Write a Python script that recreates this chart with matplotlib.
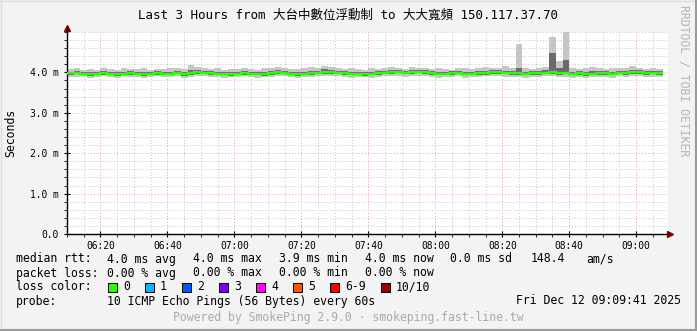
import matplotlib
matplotlib.use("Agg")
import matplotlib.pyplot as plt
from matplotlib.patches import Rectangle
from matplotlib.ticker import MultipleLocator, FixedLocator, FuncFormatter

# 2-minute steps starting 06:10 (minutes since midnight)
start_min = 370
step_min = 2

# median rtt per step (ms)
med = [3.98, 3.99, 3.97, 3.96, 3.97, 3.98, 3.97, 3.96, 3.97, 3.98,
       3.97, 3.96, 3.97, 3.98, 3.97, 3.97, 3.99, 3.95, 3.98, 4.00,
       3.99, 3.98, 3.97, 3.97, 3.96, 3.97, 3.98, 3.97, 3.97, 3.96,
       3.98, 4.00, 3.99, 3.97, 3.96, 3.97, 3.98, 3.99, 4.00, 4.01,
       3.99, 3.98, 3.97, 3.97, 3.96, 3.97, 3.98, 3.99, 4.01, 4.02,
       3.99, 4.02, 4.02, 4.01, 3.98, 3.97, 3.97, 3.98, 3.99, 3.97,
       3.97, 3.98, 3.98, 4.00, 4.01, 3.99, 3.98, 3.98, 3.97, 3.98,
       3.98, 3.99, 4.00, 3.98, 3.99, 3.97, 3.98, 3.96, 3.97, 3.98,
       3.98, 3.97, 3.99, 3.98, 4.01, 4.00, 3.98, 3.99, 3.98]

# outer smoke (fastest / slowest ping)
lo = [3.89, 3.88, 3.90, 3.87, 3.89, 3.90, 3.88, 3.87, 3.90, 3.89,
      3.88, 3.86, 3.89, 3.90, 3.88, 3.89, 3.90, 3.85, 3.89, 3.91,
      3.90, 3.88, 3.89, 3.87, 3.88, 3.89, 3.90, 3.88, 3.86, 3.88,
      3.89, 3.90, 3.91, 3.88, 3.87, 3.89, 3.88, 3.90, 3.91, 3.92,
      3.90, 3.88, 3.87, 3.89, 3.88, 3.86, 3.89, 3.90, 3.92, 3.91,
      3.89, 3.91, 3.92, 3.90, 3.88, 3.87, 3.89, 3.88, 3.90, 3.87,
      3.88, 3.89, 3.90, 3.91, 3.90, 3.89, 3.88, 3.89, 3.87, 3.88,
      3.89, 3.90, 3.91, 3.88, 3.89, 3.86, 3.88, 3.87, 3.88, 3.89,
      3.89, 3.87, 3.90, 3.88, 3.91, 3.90, 3.88, 3.89, 3.88]
hi = [4.08, 4.10, 4.07, 4.09, 4.06, 4.10, 4.08, 4.07, 4.11, 4.09,
      4.08, 4.10, 4.07, 4.09, 4.08, 4.10, 4.12, 4.09, 4.18, 4.14,
      4.10, 4.08, 4.11, 4.07, 4.09, 4.08, 4.10, 4.09, 4.07, 4.12,
      4.10, 4.14, 4.11, 4.09, 4.08, 4.10, 4.13, 4.12, 4.17, 4.13,
      4.10, 4.08, 4.11, 4.09, 4.07, 4.10, 4.08, 4.12, 4.14, 4.11,
      4.09, 4.14, 4.12, 4.10, 4.08, 4.11, 4.09, 4.07, 4.12, 4.10,
      4.08, 4.11, 4.13, 4.10, 4.12, 4.16, 4.12, 4.71, 4.11, 4.09,
      4.10, 4.14, 4.88, 4.27, 5.10, 4.12, 4.09, 4.11, 4.14, 4.10,
      4.08, 4.12, 4.10, 4.11, 4.15, 4.12, 4.09, 4.10, 4.08]

# inner smoke
lo2 = [3.94, 3.95, 3.93, 3.92, 3.94, 3.94, 3.93, 3.92, 3.94, 3.94,
       3.93, 3.92, 3.93, 3.94, 3.93, 3.93, 3.95, 3.91, 3.94, 3.96,
       3.95, 3.94, 3.93, 3.93, 3.92, 3.93, 3.94, 3.93, 3.93, 3.92,
       3.94, 3.96, 3.95, 3.93, 3.92, 3.93, 3.94, 3.95, 3.96, 3.97,
       3.95, 3.94, 3.93, 3.93, 3.92, 3.93, 3.94, 3.95, 3.97, 3.98,
       3.95, 3.97, 3.98, 3.96, 3.94, 3.93, 3.93, 3.94, 3.95, 3.93,
       3.93, 3.94, 3.94, 3.96, 3.96, 3.95, 3.94, 3.94, 3.93, 3.94,
       3.94, 3.95, 3.96, 3.94, 3.95, 3.93, 3.94, 3.92, 3.93, 3.94,
       3.94, 3.93, 3.95, 3.94, 3.96, 3.96, 3.94, 3.95, 3.94]
hi2 = [4.02, 4.03, 4.02, 4.01, 4.01, 4.03, 4.02, 4.00, 4.02, 4.03,
       4.02, 4.01, 4.02, 4.03, 4.02, 4.02, 4.04, 4.00, 4.06, 4.05,
       4.04, 4.03, 4.02, 4.02, 4.01, 4.02, 4.03, 4.02, 4.02, 4.01,
       4.03, 4.06, 4.04, 4.02, 4.01, 4.02, 4.04, 4.04, 4.08, 4.06,
       4.04, 4.03, 4.02, 4.02, 4.01, 4.02, 4.03, 4.04, 4.06, 4.06,
       4.04, 4.07, 4.06, 4.05, 4.03, 4.02, 4.02, 4.03, 4.04, 4.02,
       4.02, 4.03, 4.04, 4.05, 4.06, 4.04, 4.03, 4.10, 4.02, 4.03,
       4.03, 4.05, 4.48, 4.12, 4.30, 4.02, 4.03, 4.01, 4.03, 4.03,
       4.03, 4.02, 4.04, 4.03, 4.07, 4.05, 4.03, 4.04, 4.03]

y_major = [0.0, 1.0, 2.0, 3.0, 4.0]

loss_labels = ["0", "1", "2", "3", "4", "5", "6-9", "10/10"]
loss_colors = ["#26ff00", "#00b8ff", "#0059ff", "#7e00ff", "#ff00ff",
               "#ff5500", "#ff0000", "#a10000"]

title = "Last 3 Hours from 大台中數位浮動制 to 大大寬頻 150.117.37.70"

W, H = 697, 331
MONO = ["DejaVu Sans Mono", "Noto Sans CJK TC"]
plt.rcParams["font.family"] = MONO


def fx(x):
    return x / W


def fy(y):
    return 1 - y / H


fig = plt.figure(figsize=(W / 100, H / 100), dpi=100, facecolor="#f3f3f3")

# 3d-ish frame
fig.add_artist(plt.Line2D([0, 1], [fy(0.5), fy(0.5)], color="#dcdcdc", lw=1))
fig.add_artist(plt.Line2D([fx(0.5), fx(0.5)], [0, 1], color="#dcdcdc", lw=1))
fig.add_artist(plt.Line2D([0, 1], [fy(330), fy(330)], color="#9a9a9a", lw=1.5))
fig.add_artist(plt.Line2D([fx(696), fx(696)], [0, 1], color="#9a9a9a", lw=1.5))

ax = fig.add_axes([fx(67), fy(234), (668 - 67) / W, (234 - 32) / H])
ax.set_facecolor("white")

edges = [start_min + step_min * i for i in range(len(med) + 1)]
ax.stairs(hi, edges, baseline=lo, fill=True, color="#c6c6c6", lw=0, zorder=2)
ax.stairs(hi2, edges, baseline=lo2, fill=True, color="#6a6a6a", lw=0, zorder=3)
ax.stairs(med, edges, baseline=None, color=loss_colors[0], lw=1.7, zorder=4)

ax.set_xlim(370, 549.5)
ax.set_ylim(0, 5.0)

ax.xaxis.set_major_locator(MultipleLocator(20))
ax.xaxis.set_minor_locator(MultipleLocator(5))
ax.yaxis.set_major_locator(FixedLocator(y_major))
ax.yaxis.set_minor_locator(MultipleLocator(0.2))
ax.xaxis.set_major_formatter(FuncFormatter(lambda v, p: f"{int(v) // 60:02d}:{int(v) % 60:02d}"))
ax.yaxis.set_major_formatter(FuncFormatter(lambda v, p: "0.0" if v == 0 else f"{v:.1f} m"))

ax.set_axisbelow(True)
ax.grid(which="minor", color="#c4c4c4", linestyle=(0, (1, 2)), lw=0.7)
ax.grid(which="major", color="#eaa0a0", linestyle=(0, (1, 2)), lw=0.7)

for s in ["top", "right"]:
    ax.spines[s].set_visible(False)
for s in ["left", "bottom"]:
    ax.spines[s].set_color("black")
    ax.spines[s].set_linewidth(1)

ax.tick_params(which="major", direction="inout", length=4, width=0.8, labelsize=6.9, pad=4)
ax.tick_params(which="minor", direction="out", length=2, width=0.6)
ax.tick_params(axis="x", which="major", pad=3)

# axis arrows
ax.plot([0], [1.02], marker="^", color="#8b0000", ms=4, transform=ax.transAxes, clip_on=False)
ax.plot([1.004], [0], marker=">", color="#8b0000", ms=4, transform=ax.transAxes, clip_on=False)
ax.plot([0, 0], [1.0, 1.02], color="black", lw=1, transform=ax.transAxes, clip_on=False)

fig.text(fx(348), fy(15), title, ha="center", va="center", fontsize=9)
fig.text(fx(11), fy(133), "Seconds", rotation=90, ha="center", va="center", fontsize=8.3)
fig.text(fx(684), fy(5), "RRDTOOL / TOBI OETIKER", rotation=270, ha="center", va="top",
         fontsize=8.3, color="#b4b4b4")

fs = 8.3
row1 = [(16, "median rtt:"), (107, "4.0 ms avg"), (193, "4.0 ms max"), (279, "3.9 ms min"),
        (365, "4.0 ms now"), (450, "0.0 ms sd"), (531, "148.4"), (586, "am/s")]
row2 = [(16, "packet loss:"), (107, "0.00 % avg"), (193, "0.00 % max"),
        (279, "0.00 % min"), (365, "0.00 % now")]
for x, t in row1:
    fig.text(fx(x), fy(259), t, ha="left", va="center", fontsize=fs)
for x, t in row2:
    fig.text(fx(x), fy(273), t, ha="left", va="center", fontsize=fs)

fig.text(fx(16), fy(287), "loss color:", ha="left", va="center", fontsize=fs)
box_x = [108, 145, 182, 219, 256, 293, 330, 381]
for bx, lab, col in zip(box_x, loss_labels, loss_colors):
    fig.add_artist(Rectangle((fx(bx), fy(292)), 9 / W, 9 / H, facecolor=col,
                             edgecolor="black", lw=0.7, transform=fig.transFigure))
    fig.text(fx(bx + 15), fy(287), lab, ha="left", va="center", fontsize=fs)

fig.text(fx(16), fy(301), "probe:", ha="left", va="center", fontsize=fs)
fig.text(fx(107), fy(301), "10 ICMP Echo Pings (56 Bytes) every 60s", ha="left", va="center", fontsize=fs)
fig.text(fx(681), fy(301), "Fri Dec 12 09:09:41 2025", ha="right", va="center", fontsize=fs)
fig.text(fx(348), fy(318), "Powered by SmokePing 2.9.0 · smokeping.fast-line.tw",
         ha="center", va="center", fontsize=fs, color="#aaaaaa")

fig.savefig("out.png", dpi=100, facecolor=fig.get_facecolor())
